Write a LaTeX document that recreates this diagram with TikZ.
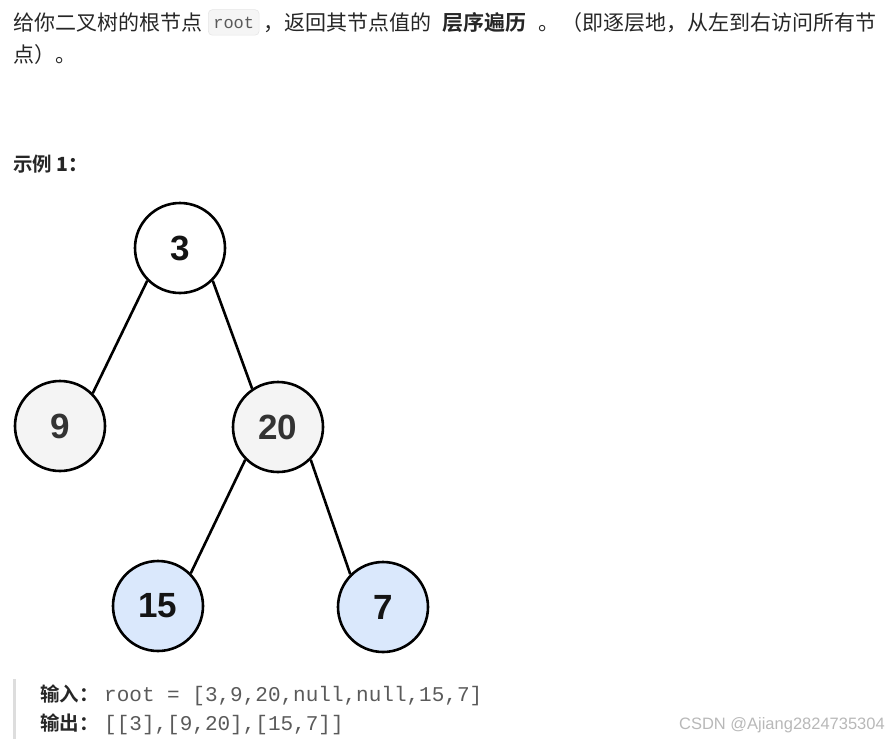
\documentclass[tikz,border=0pt]{standalone}
\usepackage{fontspec}
\setmainfont{Liberation Sans}
\newfontfamily\cjk{Noto Sans CJK SC}
\newfontfamily\cjkb{Noto Sans CJK SC Bold}
\newfontfamily\codefont{Liberation Mono}
\definecolor{txt}{HTML}{262626}
\definecolor{codegray}{HTML}{5A5A5A}
\definecolor{codebg}{HTML}{F5F5F5}
\definecolor{codeborder}{HTML}{E6E6E6}
\definecolor{graynode}{HTML}{F4F4F4}
\definecolor{bluenode}{HTML}{DAE8FC}
\definecolor{bar}{HTML}{DDDDDD}
\definecolor{wm}{HTML}{B8B8B8}
\begin{document}
\begin{tikzpicture}[x=1pt,y=-1pt,
  treenode/.style={circle,draw=black,line width=2.6pt,minimum size=90pt,inner sep=0pt,
    font=\fontsize{35}{35}\selectfont\bfseries},
  edge/.style={line width=2.6pt,draw=black},
  para/.style={anchor=base west,inner sep=0pt,text=txt,font=\cjk\fontsize{21}{21}\selectfont},
  parab/.style={anchor=base west,inner sep=0pt,text=txt,font=\cjkb\fontsize{21}{21}\selectfont},
  small/.style={anchor=base west,inner sep=0pt,text=txt,font=\cjkb\fontsize{19.5}{19.5}\selectfont},
  codetxt/.style={anchor=base west,inner sep=0pt,text=codegray,font=\codefont\fontsize{21}{21}\selectfont}]
\useasboundingbox (0,0) rectangle (888,739);
% top paragraph
\node[para] (t1) at (13,30) {给你二叉树的根节点};
\node[anchor=base west,fill=codebg,draw=codeborder,rounded corners=4pt,line width=0.6pt,
  inner xsep=5pt,inner ysep=7pt,text=codegray,font=\codefont\fontsize{17}{17}\selectfont]
  (code) at (208,28) {root};
\node[para] (t2) at (263,30) {，返回其节点值的};
\node[parab] (t3) at (442,30) {层序遍历};
\node[para] (t4) at (538,30) {。};
\node[para] (t5) at (561,30) {（即逐层地，从左到右访问所有节};
\node[para] (t6) at (13,62) {点）。};
% example heading
\node[small] (ex) at (13,171) {示例 \textbf{1：}};
% tree
\node[treenode,fill=white,text=black!92] (n3) at (180,248) {3};
\node[treenode,fill=graynode,text=black!80] (n9) at (60,426) {9};
\node[treenode,fill=graynode,text=black!80] (n20) at (278,427) {20};
\node[treenode,fill=bluenode,text=black!92] (n15) at (158,606) {15};
\node[treenode,fill=bluenode,text=black!92] (n7) at (383,607) {7};
\draw[edge] (n3.south west) -- (n9.north east);
\draw[edge] (n3.south east) -- (n20.124);
\draw[edge] (n20.south west) -- (n15.north east);
\draw[edge] (n20.south east) -- (n7.north west);
% example block
\fill[bar] (13,679) rectangle (16,739);
\node[small] (in) at (40,701) {输入：};
\node[codetxt] (inv) at (104,701) {root = [3,9,20,null,null,15,7]};
\node[small] (out) at (40,730) {输出：};
\node[codetxt] (outv) at (104,730) {[[3],[9,20],[15,7]]};
\node[anchor=base east,inner sep=0pt,text=wm,font=\fontsize{16.5}{16.5}\selectfont] (wmk) at (885,729) {CSDN @Ajiang2824735304};
\end{tikzpicture}
\end{document}
